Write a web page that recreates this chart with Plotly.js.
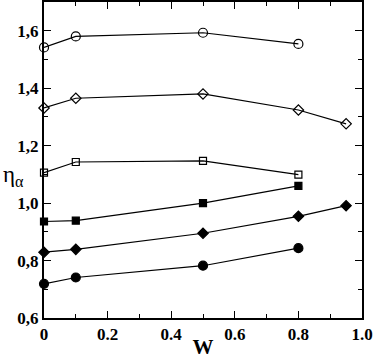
<!DOCTYPE html>
<html>
<head>
<script src="https://cdn.plot.ly/plotly-3.0.1.min.js"></script>
<style>body{margin:0;padding:0;}</style>
</head>
<body>
<div id="plot" style="width:374px;height:359px;"></div>
<script>
// W values for each curve
var wShort = [0, 0.1, 0.5, 0.8];
var wLong = [0, 0.1, 0.5, 0.8, 0.95];

var openCircle = [1.542, 1.580, 1.593, 1.554];
var openDiamond = [1.331, 1.365, 1.380, 1.324, 1.276];
var openSquare = [1.106, 1.143, 1.147, 1.099];
var fillSquare = [0.936, 0.939, 1.000, 1.060];
var fillDiamond = [0.829, 0.839, 0.895, 0.954, 0.991];
var fillCircle = [0.719, 0.741, 0.782, 0.843];

var xTickVals = [0, 0.2, 0.4, 0.6, 0.8, 1.0];
var xTickText = ['0', '0.2', '0.4', '0.6', '0.8', '1.0'];
var yTickVals = [0.6, 0.8, 1.0, 1.2, 1.4, 1.6];
var yTickText = ['0,6', '0,8', '1,0', '1,2', '1,4', '1,6'];

function series(x, y, symbol, size) {
  return {
    x: x,
    y: y,
    mode: 'lines+markers',
    type: 'scatter',
    line: {color: 'black', width: 1.2},
    marker: {symbol: symbol, size: size, color: 'black', line: {color: 'black', width: 1.2}},
    cliponaxis: false
  };
}

var data = [
  series(wShort, openCircle, 'circle-open', 9),
  series(wLong, openDiamond, 'diamond-open', 8),
  series(wShort, openSquare, 'square-open', 7),
  series(wShort, fillSquare, 'square', 7),
  series(wLong, fillDiamond, 'diamond', 8),
  series(wShort, fillCircle, 'circle', 9)
];

var serif = 'Liberation Serif';
var tickFont = {family: serif, size: 17, color: 'black', weight: 700};

var layout = {
  width: 374,
  height: 359,
  showlegend: false,
  margin: {l: 44, r: 12, t: 2, b: 41},
  paper_bgcolor: 'white',
  plot_bgcolor: 'white',
  xaxis: {
    range: [0, 1.0],
    tickvals: xTickVals,
    ticktext: xTickText,
    ticks: 'inside',
    ticklen: 7,
    tickwidth: 1.2,
    tickcolor: 'black',
    minor: {ticks: 'inside', dtick: 0.1, ticklen: 4, tickwidth: 1.2, tickcolor: 'black', showgrid: false},
    showline: true,
    linecolor: 'black',
    linewidth: 2,
    mirror: 'ticks',
    showgrid: false,
    zeroline: false,
    tickfont: tickFont,
    title: {text: 'W', font: {family: serif, size: 21, color: 'black', weight: 700}, standoff: 6}
  },
  yaxis: {
    range: [0.6, 1.7],
    tickvals: yTickVals,
    ticktext: yTickText,
    ticks: 'inside',
    ticklen: 7,
    tickwidth: 1.2,
    tickcolor: 'black',
    minor: {ticks: 'inside', dtick: 0.1, ticklen: 4, tickwidth: 1.2, tickcolor: 'black', showgrid: false},
    showline: true,
    linecolor: 'black',
    linewidth: 2,
    mirror: 'ticks',
    showgrid: false,
    zeroline: false,
    tickfont: tickFont
  },
  annotations: [{
    text: 'η<sub>α</sub>',
    xref: 'paper',
    yref: 'paper',
    x: -0.135,
    y: 0.45,
    xanchor: 'left',
    yanchor: 'middle',
    showarrow: false,
    font: {family: serif, size: 23, color: 'black'}
  }]
};

Plotly.newPlot('plot', data, layout, {displayModeBar: false});
</script>
</body>
</html>
